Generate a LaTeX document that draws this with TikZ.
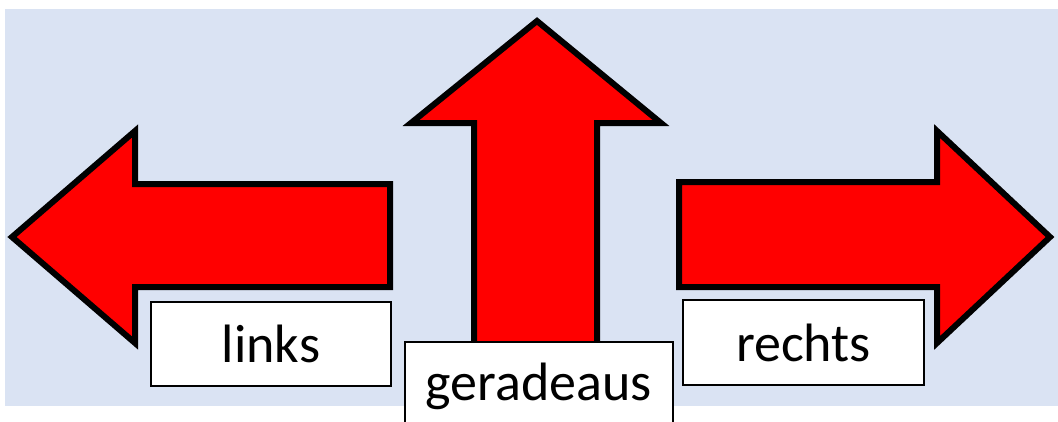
\documentclass[tikz,border=0pt]{standalone}
\usepackage{fontspec}
\setmainfont{Carlito}
\usetikzlibrary{positioning}
\definecolor{bgblue}{HTML}{DAE3F3}

\begin{document}
\begin{tikzpicture}[
  x=1pt, y=-1pt,
  bigarrow/.style={draw=black, fill=red, line width=6pt, line join=miter},
  tagbox/.style={
    draw, fill=white, line width=2pt, inner sep=0pt,
    font=\fontsize{54}{64}\selectfont
  },
]
\useasboundingbox (0,0) rectangle (1058,421);

% =========================== background ===================================
\fill[bgblue] (5,9) rectangle (1058,406);

% =========================== the three arrows =============================
% left
\draw[bigarrow] (12,237) -- (135,131) -- (135,184) -- (390,184)
  -- (390,287) -- (135,287) -- (135,343) -- cycle;
% straight on
\draw[bigarrow] (537,21) -- (661,123) -- (597,123) -- (597,350)
  -- (474,350) -- (474,123) -- (411,123) -- cycle;
% right
\draw[bigarrow] (1050,237) -- (937,131) -- (937,182) -- (679,182)
  -- (679,287) -- (937,287) -- (937,343) -- cycle;

% =========================== labels =======================================
\node[tagbox, minimum width=240pt, minimum height=84pt]
  (links) at (271,344) {links};
\node[tagbox, minimum width=268pt, minimum height=88pt]
  (geradeaus) at (539,386) {geradeaus};
\node[tagbox, minimum width=241pt, minimum height=85pt]
  (rechts) at (803.5,342.5) {rechts};

\end{tikzpicture}
\end{document}
